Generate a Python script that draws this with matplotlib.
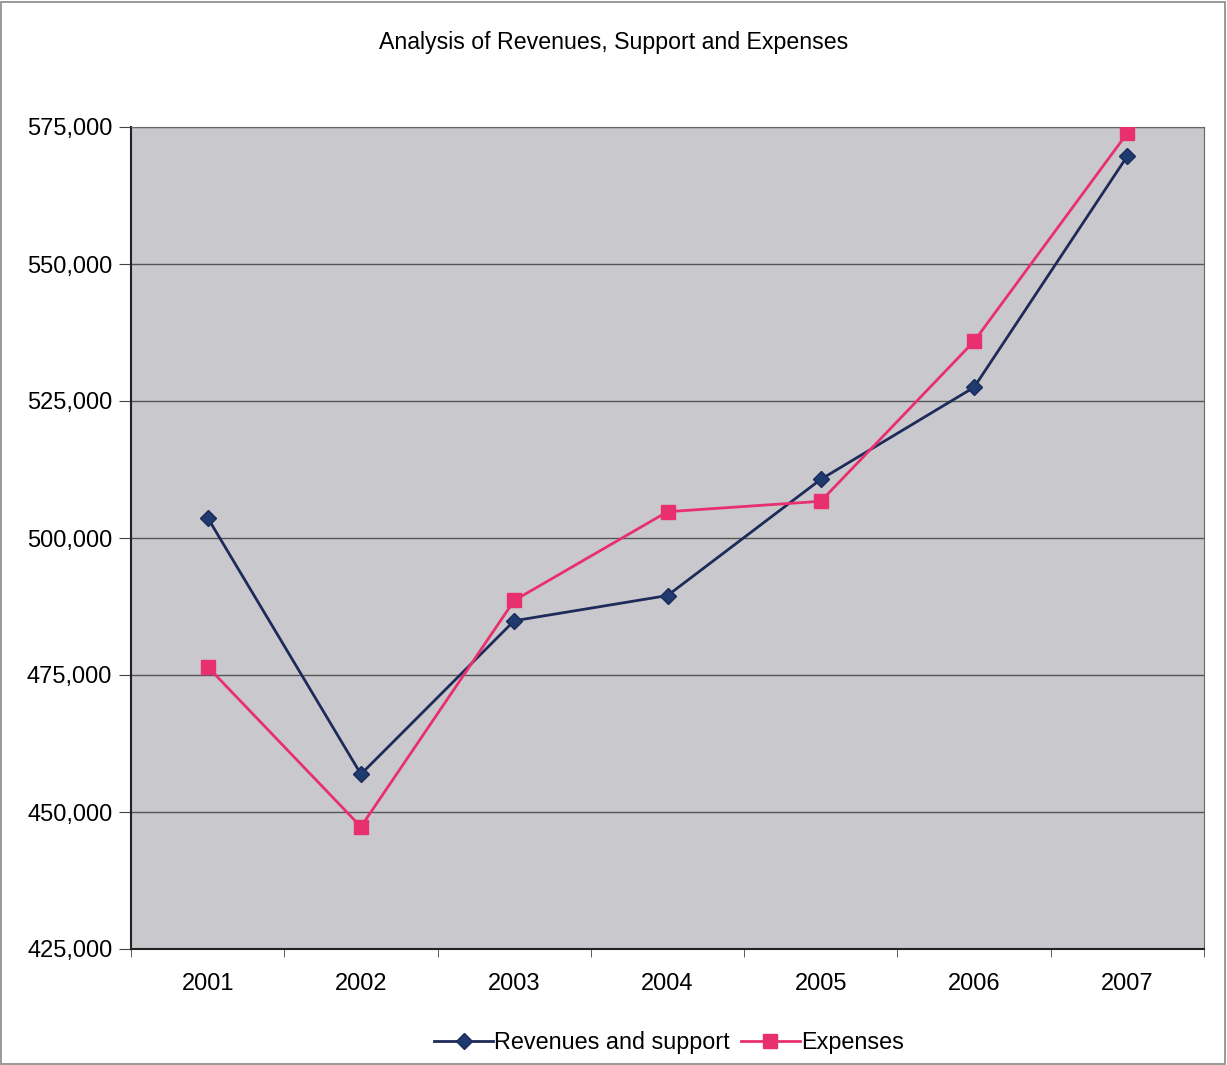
import matplotlib
matplotlib.use("Agg")
import matplotlib.pyplot as plt
from matplotlib.ticker import FuncFormatter
from matplotlib.patches import Rectangle

years = ["2001", "2002", "2003", "2004", "2005", "2006", "2007"]
revenues = [503700, 456900, 484900, 489500, 510700, 527500, 569700]
expenses = [476500, 447300, 488600, 504800, 506700, 535900, 573900]

plt.rcParams['font.family'] = ['Liberation Sans', 'DejaVu Sans']

fig = plt.figure(figsize=(12.27, 10.65), dpi=100)
fig.patch.set_facecolor("white")
ax = fig.add_axes([131/1227, 1-949/1065, (1204-131)/1227, (949-127)/1065])
ax.set_facecolor("#c9c9cd")

x = list(range(len(years)))
ax.plot(x, revenues, color="#1c2b5a", lw=2, marker="D", ms=8, mfc="#1f3a6e", mec="#1c2b5a",
        label="Revenues and support", zorder=3)
ax.plot(x, expenses, color="#e8306e", lw=2, marker="s", ms=10, mfc="#e8306e", mec="#e8306e",
        label="Expenses", zorder=3)

ax.set_xlim(-0.5, 6.5)
ax.set_ylim(425000, 575000)
ax.set_yticks(range(425000, 575001, 25000))
ax.yaxis.set_major_formatter(FuncFormatter(lambda v, p: f"{int(v):,}"))
ax.set_xticks(x)
ax.set_xticklabels(years)
ax.set_xticks([i - 0.5 for i in range(8)], minor=True)
ax.tick_params(axis="x", which="major", length=0, pad=17, labelsize=17)
ax.tick_params(axis="x", which="minor", length=6, color="#444444")
ax.tick_params(axis="y", length=9, labelsize=17, pad=4.5, color="#444444")
ax.grid(axis="y", color="#555555", lw=1)
ax.set_axisbelow(True)
for s in ["top", "right"]:
    ax.spines[s].set_color("#666666")
for s in ["left", "bottom"]:
    ax.spines[s].set_color("#222222")
    ax.spines[s].set_linewidth(1.5)

fig.text(0.5, 1-43/1065, "Analysis of Revenues, Support and Expenses", ha="center", va="center", fontsize=16.7)
fig.legend(loc="center", bbox_to_anchor=(669/1227, 1-1043/1065), ncol=2, frameon=False, fontsize=16.8,
           handlelength=2.5, columnspacing=0.5, handletextpad=0.05)

fig.patches.append(Rectangle((0.001, 0.001), 0.997, 0.997, transform=fig.transFigure,
                             fill=False, edgecolor="#888888", lw=1.2))

fig.savefig("out.png", dpi=100)
